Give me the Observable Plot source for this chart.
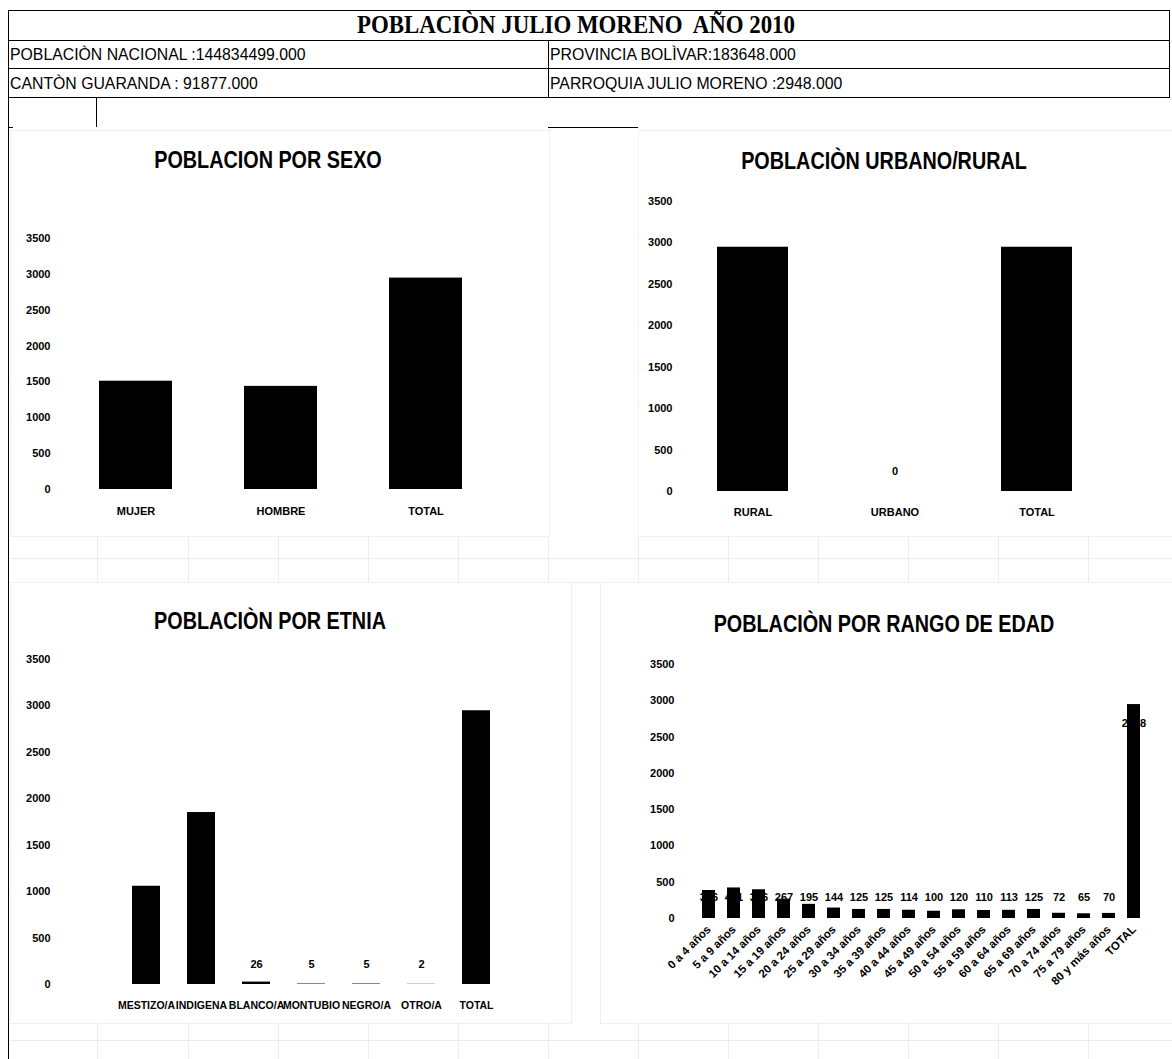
<!DOCTYPE html>
<html><head><meta charset="utf-8">
<script src="https://cdn.jsdelivr.net/npm/d3@7"></script>
<script src="https://cdn.jsdelivr.net/npm/@observablehq/plot@0.6"></script>
<style>
body{margin:0;background:#fff;width:1172px;height:1059px;position:relative;overflow:hidden;font-family:"Liberation Sans Narrow","Liberation Sans",sans-serif;color:#000;}
.hl{position:absolute;height:0;border-top:1.5px solid #000;}
.vl{position:absolute;width:0;border-left:1.5px solid #000;}
.gl{position:absolute;background:#ececec;}
.cell{position:absolute;font-size:17px;white-space:pre;line-height:1;transform-origin:0 0;transform:scaleX(0.93);}
.ctitle{position:absolute;font-weight:bold;font-size:23px;white-space:nowrap;line-height:1;transform:translate(-50%,-50%) scaleX(0.86);}
.panel{position:absolute;border:1px solid #f0f0f0;}
</style></head>
<body>
<script>
// ---------- data ----------
const headerTitle = "POBLACIÒN JULIO MORENO  AÑO 2010";
const headerCells = [
  "POBLACIÒN NACIONAL :144834499.000",
  "PROVINCIA BOLÌVAR:183648.000",
  "CANTÒN GUARANDA : 91877.000",
  "PARROQUIA JULIO MORENO :2948.000"
];
const yTicks = [0, 500, 1000, 1500, 2000, 2500, 3000, 3500];

const sexoTitle = "POBLACION POR SEXO";
const sexoCats = ["MUJER", "HOMBRE", "TOTAL"];
const sexoVals = [1510, 1438, 2948];

const areaTitle = "POBLACIÒN URBANO/RURAL";
const areaCats = ["RURAL", "URBANO", "TOTAL"];
const areaVals = [2948, 0, 2948];

const etniaTitle = "POBLACIÒN POR ETNIA";
const etniaCats = ["MESTIZO/A", "INDIGENA", "BLANCO/A", "MONTUBIO", "NEGRO/A", "OTRO/A", "TOTAL"];
const etniaVals = [1058, 1852, 26, 5, 5, 2, 2948];

const edadTitle = "POBLACIÒN POR RANGO DE EDAD";
const edadCats = ["0 a 4 años", "5 a 9 años", "10 a 14 años", "15 a 19 años", "20 a 24 años", "25 a 29 años",
  "30 a 34 años", "35 a 39 años", "40 a 44 años", "45 a 49 años", "50 a 54 años", "55 a 59 años",
  "60 a 64 años", "65 a 69 años", "70 a 74 años", "75 a 79 años", "80 y más años", "TOTAL"];
const edadVals = [386, 421, 396, 267, 195, 144, 125, 125, 114, 100, 120, 110, 113, 125, 72, 65, 70, 2948];

// ---------- layout helpers ----------
function el(cls, css, text) {
  const d = document.createElement("div");
  d.className = cls;
  Object.assign(d.style, css);
  if (text != null) d.textContent = text;
  document.body.appendChild(d);
  return d;
}

// spreadsheet faint grid
const colX = [97, 188, 278, 368, 458, 548, 638, 728, 818, 908, 998, 1088];
for (const x of colX) {
  el("gl", {left: x + "px", top: "537px", width: "1px", height: "45px"});
  el("gl", {left: x + "px", top: "1022px", width: "1px", height: "40px"});
}
for (const y of [558, 582, 1040]) el("gl", {left: "10px", top: y + "px", width: "1162px", height: "1px"});

// panels
el("panel", {left: "10px", top: "130px", width: "538px", height: "405px"});
el("panel", {left: "638px", top: "130px", width: "534px", height: "405px"});
el("panel", {left: "10px", top: "582px", width: "560px", height: "440px"});
el("panel", {left: "600px", top: "582px", width: "572px", height: "440px"});

// header table
el("hl", {left: "8px", top: "10px", width: "1162px"});
el("hl", {left: "8px", top: "40px", width: "1162px"});
el("hl", {left: "8px", top: "68px", width: "1162px"});
el("hl", {left: "8px", top: "97px", width: "1162px"});
el("vl", {left: "8px", top: "10px", height: "1049px"});
el("vl", {left: "1169px", top: "10px", height: "88px"});
el("vl", {left: "548px", top: "40px", height: "58px"});
el("vl", {left: "96px", top: "97px", height: "30px"});
el("hl", {left: "548px", top: "127px", width: "90px"});
el("hl", {left: "8px", top: "127px", width: "5px"});

el("cell", {left: "576px", top: "25px", fontFamily: "'Liberation Serif',serif", fontWeight: "bold", fontSize: "26px",
  transformOrigin: "50% 50%", transform: "translate(-50%,-50%) scaleX(0.88)"}, headerTitle);
el("cell", {left: "10px", top: "46px"}, headerCells[0]);
el("cell", {left: "550px", top: "46px"}, headerCells[1]);
el("cell", {left: "10px", top: "75px"}, headerCells[2]);
el("cell", {left: "550px", top: "75px"}, headerCells[3]);

// chart titles
el("ctitle", {left: "268px", top: "160px"}, sexoTitle);
el("ctitle", {left: "884px", top: "161px"}, areaTitle);
el("ctitle", {left: "270px", top: "621px"}, etniaTitle);
el("ctitle", {left: "884px", top: "624px"}, edadTitle);

// ---------- chart builder ----------
function chart(o) {
  const data = o.cats.map((c, i) => ({cat: c, val: o.vals[i]}));
  const marks = [
    Plot.barY(data, {x: "cat", y: "val", fill: "#000"}),
    Plot.axisY({ticks: yTicks, tickSize: 0, tickPadding: 6, tickFormat: d => String(d), label: null,
      fontSize: 11, fontWeight: "bold"}),
    Plot.axisX({tickSize: 0, tickPadding: o.xPad, label: null, fontSize: o.xFont || 11, tickRotate: o.rotate || 0,
      fontWeight: "bold"})
  ];
  if (o.labels) {
    const lab = data.filter(o.labels.filter);
    marks.push(Plot.text(lab, {x: "cat", frameAnchor: "bottom", dy: -o.labels.dy, text: d => String(d.val),
      fill: "#000", fontSize: 11, fontWeight: "bold"}));
    if (o.labels.top) {
      marks.push(Plot.text(data.filter(o.labels.top), {x: "cat", y: "val", dy: 19, text: d => String(d.val),
        fill: "#000", fontSize: 11, fontWeight: "bold"}));
    }
  }
  const p = Plot.plot({
    width: o.W, height: o.H,
    marginTop: o.mt, marginBottom: o.mb, marginLeft: o.ml, marginRight: 0,
    style: {fontFamily: "'Liberation Sans Narrow','Liberation Sans',sans-serif", color: "#000", background: "transparent", overflow: "visible"},
    x: {type: "band", domain: o.cats, range: o.xr, paddingInner: o.pi, paddingOuter: o.pi / 2, axis: null},
    y: {domain: [0, 3500], axis: null},
    marks
  });
  p.style.position = "absolute";
  p.style.left = o.ox + "px";
  p.style.top = o.oy + "px";
  document.body.appendChild(p);
}

// Sexo: baseline 489, 3500 at 238
chart({cats: sexoCats, vals: sexoVals, ox: 0, oy: 180, W: 548, H: 350, mt: 58, mb: 41, ml: 56,
  xr: [62, 499.4], pi: 0.5, xPad: 18});
// Urbano/rural: baseline 491, 3500 at 201
chart({cats: areaCats, vals: areaVals, ox: 600, oy: 180, W: 572, H: 350, mt: 21, mb: 39, ml: 78,
  xr: [81.2, 508], pi: 0.5, xPad: 17,
  labels: {filter: d => d.val < 100, dy: 17}});
// Etnia: baseline 984, 3500 at 659
chart({cats: etniaCats, vals: etniaVals, ox: 0, oy: 640, W: 570, H: 380, mt: 19, mb: 36, ml: 56,
  xr: [117.1, 504.2], pi: 0.5, xPad: 17, xFont: 10.5,
  labels: {filter: d => d.val < 2000, dy: 17}});
// Edad: baseline 918, 3500 at 664
chart({cats: edadCats, vals: edadVals, ox: 600, oy: 640, W: 572, H: 380, mt: 24, mb: 102, ml: 80,
  xr: [88.8, 552.6], pi: 0.5, xPad: 9, xFont: 11.5, rotate: -45,
  labels: {filter: d => d.val < 2000, dy: 18, top: d => d.val >= 2000}});
</script>
</body></html>
